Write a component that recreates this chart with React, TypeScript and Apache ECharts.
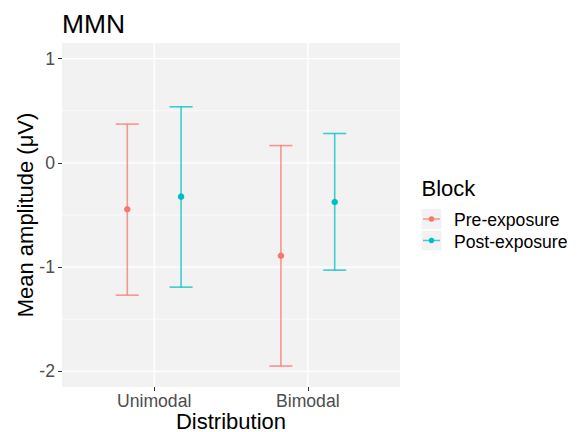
import React, { useEffect, useRef } from "react";
import * as echarts from "echarts";

const categories = ["Unimodal", "Bimodal"];
const blocks = ["Pre-exposure", "Post-exposure"];
const preMean = [-0.445, -0.891];
const preLower = [-1.269, -1.949];
const preUpper = [0.372, 0.166];
const postMean = [-0.324, -0.375];
const postLower = [-1.192, -1.029];
const postUpper = [0.538, 0.282];
const yTicks = [-2, -1, 0, 1];
const yMinor = [-1.5, -0.5, 0.5];
const xTicks = [1, 2];

const FONT = "'Liberation Sans', Arial, Helvetica, sans-serif";
const PRE_COLOR = "#F8766D";
const POST_COLOR = "#00BFC4";
const DODGE = 0.175;
const CAP = 0.075;

export default function App() {
  const ref = useRef<HTMLDivElement>(null);
  useEffect(() => {
    if (!ref.current) return;
    const chart = echarts.init(ref.current, undefined, { renderer: "svg" });

    const errData = (lo: number[], hi: number[], off: number) =>
      categories.map((_, i) => [i + 1 + off, lo[i], hi[i]]);
    const ptData = (m: number[], off: number) =>
      categories.map((_, i) => [i + 1 + off, m[i]]);

    const errRender = (color: string) => (params: any, api: any) => {
      const x = api.value(0);
      const lo = api.value(1);
      const hi = api.value(2);
      const top = api.coord([x, hi]);
      const bot = api.coord([x, lo]);
      const tl = api.coord([x - CAP, hi]);
      const tr = api.coord([x + CAP, hi]);
      const bl = api.coord([x - CAP, lo]);
      const br = api.coord([x + CAP, lo]);
      const style = { stroke: color, lineWidth: 1.6, opacity: 0.75 };
      return {
        type: "group",
        children: [
          { type: "line", shape: { x1: top[0], y1: top[1], x2: bot[0], y2: bot[1] }, style },
          { type: "line", shape: { x1: tl[0], y1: tl[1], x2: tr[0], y2: tr[1] }, style },
          { type: "line", shape: { x1: bl[0], y1: bl[1], x2: br[0], y2: br[1] }, style },
        ],
      };
    };

    const hGrid = (width: number) => (params: any, api: any) => {
      const v = api.value(0);
      const a = api.coord([0.4, v]);
      const b = api.coord([2.6, v]);
      return {
        type: "line",
        shape: { x1: a[0], y1: a[1], x2: b[0], y2: b[1] },
        style: { stroke: "#FFFFFF", lineWidth: width },
      };
    };
    const vGrid = (params: any, api: any) => {
      const v = api.value(0);
      const a = api.coord([v, -2.15]);
      const b = api.coord([v, 1.15]);
      return {
        type: "line",
        shape: { x1: a[0], y1: a[1], x2: b[0], y2: b[1] },
        style: { stroke: "#FFFFFF", lineWidth: 1.4 },
      };
    };

    const legendTop = 209;
    const keyH = 20;
    const keyGap = 1.5;
    const legendColors = [PRE_COLOR, POST_COLOR];
    const legendGraphics: any[] = [
      {
        type: "text",
        left: 421.5,
        top: 177,
        style: { text: "Block", font: `22px ${FONT}`, fill: "#000" },
      },
    ];
    blocks.forEach((b, i) => {
      const y0 = legendTop + i * (keyH + keyGap);
      legendGraphics.push(
        { type: "rect", shape: { x: 421.5, y: y0, width: 20, height: keyH }, style: { fill: "#F2F2F2" } },
        { type: "line", shape: { x1: 423, y1: y0 + keyH / 2, x2: 440, y2: y0 + keyH / 2 }, style: { stroke: legendColors[i], lineWidth: 1.5, opacity: 0.75 } },
        { type: "circle", shape: { cx: 431.5, cy: y0 + keyH / 2, r: 2.8 }, style: { fill: legendColors[i] } },
        {
          type: "text",
          x: 454,
          y: y0 + keyH / 2 + 1,
          style: { text: b, font: `17.6px ${FONT}`, fill: "#000", textVerticalAlign: "middle", verticalAlign: "middle" },
        }
      );
    });

    chart.setOption({
      animation: false,
      title: {
        text: "MMN",
        left: 62,
        top: 11,
        padding: 0,
        textStyle: { fontSize: 26.4, fontWeight: "normal", color: "#000", fontFamily: FONT },
      },
      grid: {
        left: 62,
        right: 184,
        top: 43,
        bottom: 45,
        show: true,
        backgroundColor: "#F2F2F2",
        borderWidth: 0,
        containLabel: false,
        outerBoundsMode: "none",
      },
      xAxis: {
        type: "value",
        min: 0.4,
        max: 2.6,
        axisLine: { show: false, onZero: false },
        axisTick: { show: true, length: 4, customValues: xTicks, lineStyle: { color: "#333333", width: 1 } },
        axisLabel: {
          customValues: xTicks,
          formatter: (v: number) => categories[Math.round(v) - 1] ?? "",
          color: "#4D4D4D",
          fontSize: 17.6,
          fontFamily: FONT,
          margin: 5,
        },
        splitLine: { show: false },
        name: "Distribution",
        nameLocation: "middle",
        nameMoveOverlap: false,
        nameGap: 23,
        nameTextStyle: { fontSize: 22, color: "#000", fontFamily: FONT },
      },
      yAxis: {
        type: "value",
        min: -2.15,
        max: 1.15,
        axisLine: { show: false, onZero: false },
        axisTick: { show: true, length: 4, customValues: yTicks, lineStyle: { color: "#333333", width: 1 } },
        axisLabel: {
          customValues: yTicks,
          formatter: (v: number) => String(v),
          color: "#4D4D4D",
          fontSize: 17.6,
          fontFamily: FONT,
          margin: 7,
        },
        splitLine: { show: false },
        name: "Mean amplitude (μV)",
        nameLocation: "middle",
        nameMoveOverlap: false,
        nameGap: 26,
        nameTextStyle: { fontSize: 22, color: "#000", fontFamily: FONT },
      },
      series: [
        { type: "custom", silent: true, z: 1, renderItem: hGrid(0.6), data: yMinor.map((v) => [v]), encode: { y: 0 } },
        { type: "custom", silent: true, z: 1, renderItem: hGrid(1.4), data: yTicks.map((v) => [v]), encode: { y: 0 } },
        { type: "custom", silent: true, z: 1, renderItem: vGrid, data: xTicks.map((v) => [v]), encode: { x: 0 } },
        { name: blocks[0], type: "custom", z: 2, renderItem: errRender(PRE_COLOR), data: errData(preLower, preUpper, -DODGE), encode: { x: 0, y: [1, 2] } },
        { name: blocks[1], type: "custom", z: 2, renderItem: errRender(POST_COLOR), data: errData(postLower, postUpper, DODGE), encode: { x: 0, y: [1, 2] } },
        { name: blocks[0], type: "scatter", z: 3, symbolSize: 6.5, itemStyle: { color: PRE_COLOR, opacity: 1 }, data: ptData(preMean, -DODGE) },
        { name: blocks[1], type: "scatter", z: 3, symbolSize: 6.5, itemStyle: { color: POST_COLOR, opacity: 1 }, data: ptData(postMean, DODGE) },
      ],
      graphic: legendGraphics,
    });
    return () => chart.dispose();
  }, []);
  return <div ref={ref} style={{ position: "absolute", left: 0, top: 0, width: 584, height: 432 }} />;
}
